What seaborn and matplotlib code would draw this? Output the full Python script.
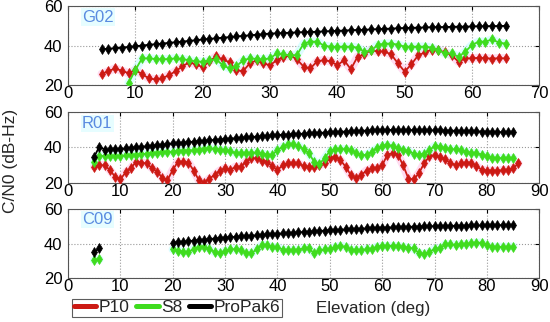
import numpy as np
import pandas as pd
import matplotlib
matplotlib.use("Agg")
import matplotlib.pyplot as plt
import seaborn as sns
from matplotlib.lines import Line2D

# ---- data (C/N0 in dB-Hz vs elevation in deg) ----
g02_elev_p10 = list(range(5, 66))
g02_p10 = [25.6, 27.0, 28.4, 27.2, 26.0, 27.6, 25.5, 23.4, 22.8, 23.4, 25.0, 27.0, 29.5, 31.5, 30.5,
           29.0, 32.0, 34.5, 33.0, 31.5, 27.5, 27.0, 31.0, 32.5, 31.0, 30.0, 32.6, 34.0, 35.0, 33.0,
           29.3, 28.4, 32.0, 32.6, 32.0, 30.0, 32.6, 28.0, 34.3, 35.5, 37.7, 37.0, 37.0, 35.5, 31.0,
           26.8, 30.5, 35.0, 36.5, 38.0, 37.7, 36.5, 35.0, 31.8, 33.5, 33.5, 33.8, 33.6, 33.4, 33.6, 33.5]
g02_elev_s8 = list(range(9, 66))
g02_s8 = [21.0, 27.6, 33.5, 33.5, 33.2, 33.0, 33.2, 33.5, 33.2, 32.5, 32.0, 31.8, 32.5, 33.0, 30.0,
          28.4, 29.5, 32.5, 33.5, 33.2, 33.0, 33.5, 36.0, 35.5, 35.0, 35.2, 41.0, 42.0, 42.0, 40.0,
          39.4, 39.4, 39.5, 39.4, 39.0, 36.9, 37.5, 40.3, 41.0, 41.0, 40.5, 39.4, 39.5, 39.4, 39.5,
          39.0, 37.7, 36.0, 36.0, 34.3, 36.9, 40.3, 42.0, 42.0, 43.1, 41.5, 41.0]
g02_elev_pp6 = list(range(5, 66))
g02_pp6 = [38.2, 38.4, 38.7, 39.0, 39.3, 39.7, 40.0, 40.4, 40.7, 41.0, 41.4, 41.7, 42.0, 42.4, 42.7,
           43.1, 43.4, 43.7, 44.0, 44.3, 44.6, 44.9, 45.2, 45.5, 45.8, 46.1, 46.2, 46.4, 46.5, 46.7,
           46.8, 46.9, 47.0, 47.2, 47.3, 47.5, 47.6, 47.8, 47.9, 48.0, 48.2, 48.3, 48.5, 48.6, 48.8,
           48.9, 49.0, 49.1, 49.2, 49.3, 49.4, 49.4, 49.5, 49.6, 49.6, 49.7, 49.8, 49.8, 49.9, 49.9, 50.0]

r01_elev_p10 = list(range(5, 87))
r01_p10 = [29.2, 30.0, 30.0, 27.3, 23.5, 22.0, 26.0, 28.3, 32.0, 31.5, 31.0, 28.5, 26.4, 23.0, 21.7,
           27.3, 32.0, 32.0, 31.5, 27.0, 21.5, 20.2, 22.5, 24.5, 27.0, 28.3, 27.3, 29.2, 29.2, 32.0,
           33.9, 33.9, 32.5, 32.0, 29.5, 27.3, 30.0, 31.0, 31.0, 31.0, 29.5, 29.2, 29.2, 30.0, 31.0,
           34.0, 34.8, 33.0, 29.2, 24.5, 22.6, 24.5, 27.0, 28.3, 28.3, 30.0, 36.0, 36.7, 35.8, 30.0,
           22.5, 22.0, 25.5, 31.0, 35.0, 35.8, 34.5, 33.3, 31.5, 30.0, 31.0, 31.5, 31.5, 29.5, 27.5,
           27.0, 27.0, 27.0, 27.2, 27.5, 28.3, 31.0]
r01_elev_s8 = list(range(5, 86))
r01_s8 = [32.0, 35.2, 35.2, 35.0, 35.2, 35.2, 35.5, 35.8, 36.0, 36.3, 36.5, 36.8, 37.0, 37.2, 37.5,
          37.7, 38.0, 38.2, 38.3, 38.5, 38.8, 39.2, 39.5, 39.3, 38.8, 38.5, 37.8, 37.0, 36.7, 36.8,
          37.0, 37.2, 36.5, 36.0, 35.8, 38.6, 40.5, 41.8, 41.8, 41.0, 39.0, 36.7, 32.0, 30.7, 34.0,
          38.0, 39.0, 39.2, 39.0, 38.5, 37.0, 35.8, 35.8, 37.7, 39.5, 41.0, 41.4, 41.0, 39.5, 38.6,
          38.0, 36.5, 35.8, 36.5, 38.5, 40.8, 40.5, 39.5, 39.0, 39.0, 38.5, 37.5, 37.0, 36.8, 36.0,
          35.0, 34.2, 34.0, 34.0, 34.0, 34.0]
r01_elev_pp6 = list(range(5, 86))
r01_pp6 = [34.8, 40.5, 38.8, 38.9, 39.0, 39.2, 39.5, 39.8, 40.1, 40.4, 40.7, 41.0, 41.3, 41.6, 41.9,
           42.3, 42.5, 42.8, 43.0, 43.3, 43.5, 43.8, 44.0, 44.3, 44.5, 44.8, 45.0, 45.2, 45.4, 45.7,
           45.9, 46.1, 46.3, 46.6, 46.8, 47.0, 47.2, 47.3, 47.5, 47.6, 47.8, 47.9, 48.1, 48.2, 48.4,
           48.5, 48.7, 48.8, 49.0, 49.1, 49.2, 49.4, 49.5, 49.6, 49.8, 49.9, 49.9, 49.9, 49.9, 49.9,
           49.8, 49.8, 49.8, 49.7, 49.7, 49.6, 49.6, 49.5, 49.5, 49.4, 49.3, 49.3, 49.2, 49.1, 49.0,
           48.9, 48.8, 48.7, 48.6, 48.5, 48.5]

# C09 has a tracking gap between 6 and 20 deg
c09_elev_a = [5, 6]
c09_s8_a = [30.4, 30.8]
c09_pp6_a = [35.3, 37.2]
c09_elev_b = list(range(20, 86))
c09_s8_b = [36.6, 35.8, 35.3, 35.0, 37.0, 38.2, 38.2, 37.0, 35.0, 34.7, 35.8, 36.6, 36.8, 36.2, 34.5,
            34.3, 36.6, 39.1, 39.1, 38.0, 37.8, 36.5, 36.2, 36.2, 36.5, 37.2, 37.2, 34.3, 36.0, 36.6,
            36.6, 38.0, 38.6, 38.2, 36.5, 36.2, 36.2, 36.8, 37.0, 38.2, 38.6, 38.6, 38.6, 38.4, 38.2,
            37.5, 37.2, 34.5, 33.9, 35.0, 37.0, 37.2, 39.5, 39.5, 39.3, 39.5, 39.5, 40.3, 40.5, 40.5,
            39.0, 38.2, 38.2, 38.0, 38.2, 38.2]
c09_pp6_b = [40.5, 40.8, 41.1, 41.4, 41.7, 42.0, 42.3, 42.6, 42.9, 43.2, 43.5, 43.7, 43.9, 44.2, 44.4,
             44.6, 44.8, 45.1, 45.3, 45.5, 45.7, 45.9, 46.1, 46.3, 46.5, 46.7, 46.9, 47.1, 47.3, 47.5,
             47.7, 47.9, 48.0, 48.2, 48.3, 48.5, 48.6, 48.8, 48.9, 49.1, 49.2, 49.3, 49.4, 49.5, 49.6,
             49.7, 49.8, 49.9, 50.0, 50.0, 50.1, 50.2, 50.2, 50.3, 50.3, 50.4, 50.4, 50.5, 50.5, 50.5,
             50.6, 50.6, 50.6, 50.7, 50.7, 50.7]

receivers = ["P10", "S8", "ProPak6"]
colors = {"P10": "#cc1a14", "S8": "#3fdc1e", "ProPak6": "#000000"}
halos = {"P10": "#ffc6e8", "S8": "#c4fcff"}

sns.set_style("white")
plt.rcParams["font.family"] = ["Liberation Sans", "DejaVu Sans"]

fig = plt.figure(figsize=(5.5, 3.22), dpi=100)
ax1 = fig.add_axes([0.1236, 0.736, 0.857, 0.245])
ax2 = fig.add_axes([0.1236, 0.4317, 0.857, 0.2205])
ax3 = fig.add_axes([0.1236, 0.1366, 0.857, 0.214])


def draw(ax, x, y, rcv):
    if rcv in halos:
        ax.plot(x, y, color=halos[rcv], lw=6, alpha=0.6, zorder=1, solid_capstyle="round")
    sns.lineplot(x=x, y=y, ax=ax, color=colors[rcv], lw=1.3, marker="d", markersize=5,
                 markeredgecolor=colors[rcv], markeredgewidth=0.5, legend=False, zorder=3,
                 estimator=None, sort=False)


draw(ax1, g02_elev_p10, g02_p10, "P10")
draw(ax1, g02_elev_s8, g02_s8, "S8")
draw(ax1, g02_elev_pp6, g02_pp6, "ProPak6")

draw(ax2, r01_elev_p10, r01_p10, "P10")
draw(ax2, r01_elev_s8, r01_s8, "S8")
draw(ax2, r01_elev_pp6, r01_pp6, "ProPak6")

draw(ax3, c09_elev_a, c09_s8_a, "S8")
draw(ax3, c09_elev_a, c09_pp6_a, "ProPak6")
draw(ax3, c09_elev_b, c09_s8_b, "S8")
draw(ax3, c09_elev_b, c09_pp6_b, "ProPak6")

for ax, xmax, name, ty in [(ax1, 70, "G02", 0.86), (ax2, 90, "R01", 0.84), (ax3, 90, "C09", 0.85)]:
    ax.set_xlim(0, xmax)
    ax.set_ylim(20, 60)
    ax.set_yticks([20, 40, 60])
    ax.set_xticks(range(0, xmax + 1, 10))
    ax.grid(True, linestyle=":", color="#999999", lw=0.8)
    ax.tick_params(direction="in", length=3, top=True, right=True, labelsize=12,
                   colors="black")
    ax.tick_params(axis="y", pad=4)
    ax.tick_params(axis="x", pad=1)
    for s in ax.spines.values():
        s.set_color("#555555")
        s.set_linewidth(0.8)
    ax.set_xlabel("")
    ax.set_ylabel("")
    ax.text(0.03, ty, name, transform=ax.transAxes, color="#5a8be0", fontsize=12,
            ha="left", va="center", zorder=5,
            bbox=dict(facecolor="#e6fdff", edgecolor="none", pad=1))

fig.text(0.02, 0.5, "C/N0 (dB-Hz)", rotation=90, ha="center", va="center", fontsize=12.5)
fig.text(0.678, 0.043, "Elevation (deg)", ha="center", va="center", fontsize=12.2)

handles = [Line2D([], [], color=colors[r], lw=3.6) for r in receivers]
leg = fig.legend(handles, receivers, loc="center", bbox_to_anchor=(0.322, 0.044), ncol=3,
                 fontsize=12.5, frameon=True, fancybox=False, handlelength=1.3,
                 handletextpad=0.15, columnspacing=0.35, borderpad=0.1, borderaxespad=0)
leg.get_frame().set_edgecolor("#333333")
leg.get_frame().set_linewidth(0.8)

fig.savefig("out.png", dpi=100)
